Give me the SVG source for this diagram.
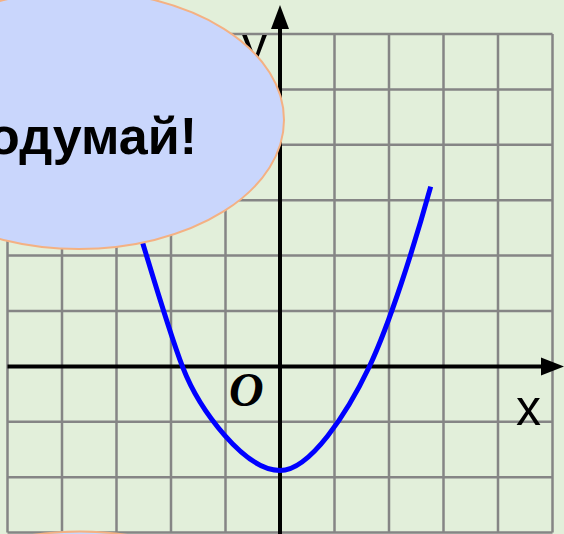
<svg xmlns="http://www.w3.org/2000/svg" width="564" height="534" viewBox="0 0 564 534">
<defs>
<style>
.grid{stroke:#858585;stroke-width:2.5;fill:none}
.axis{stroke:#000;stroke-width:4;fill:none}
.bubble{fill:#C9D6FC;stroke:#F4B183;stroke-width:2}
.lbl{font-family:"Liberation Sans",Arial,sans-serif;font-size:50px;fill:#000}
</style>
</defs>
<rect id="background" x="0" y="0" width="564" height="534" fill="#E2EFDA"/>
<g id="grid" class="grid">
<path d="M7.5,34V532.6M62,34V532.6M116.5,34V532.6M171,34V532.6M225.5,34V532.6M334.5,34V532.6M389,34V532.6M443.5,34V532.6M498,34V532.6M552.5,34V532.6"/>
<path d="M7.5,34H552.5M7.5,89.4H552.5M7.5,144.8H552.5M7.5,200.2H552.5M7.5,255.6H552.5M7.5,311H552.5M7.5,421.8H552.5M7.5,477.2H552.5M7.5,532.6H552.5"/>
</g>
<g id="axes">
<line class="axis" x1="7.5" y1="366.5" x2="543" y2="366.5"/>
<polygon points="564,366.5 541,357.5 541,375.5" fill="#000"/>
<line class="axis" x1="280" y1="534" x2="280" y2="27"/>
<polygon points="280,5 271,29 289,29" fill="#000"/>
</g>
<g id="curve">
<path d="M136.3,222 L142.7,243 C154.7,282.6 170.5,335.5 182.5,366.7 C199.5,410.9 245,470.5 280,470.5 C310,470.5 347.3,412.9 369.3,366.7 C389.3,324.7 413.7,247.9 430.7,186.7" fill="none" stroke="#0000FF" stroke-width="5"/>
</g>
<g id="labels">
<text class="lbl" x="242" y="62">y</text>
<text class="lbl" x="516" y="425">x</text>
<text x="229" y="406" font-family="'Liberation Serif','Times New Roman',serif" font-size="48" font-weight="bold" font-style="italic" fill="#000">O</text>
</g>
<g id="bubble-bottom">
<ellipse class="bubble" cx="80" cy="660.5" rx="205" ry="129"/>
</g>
<g id="bubble">
<ellipse class="bubble" cx="79" cy="120" rx="205" ry="129"/>
<text x="197" y="154" text-anchor="end" font-family="'Liberation Sans',Arial,sans-serif" font-size="52" font-weight="bold" fill="#000">Подумай!</text>
</g>
</svg>
